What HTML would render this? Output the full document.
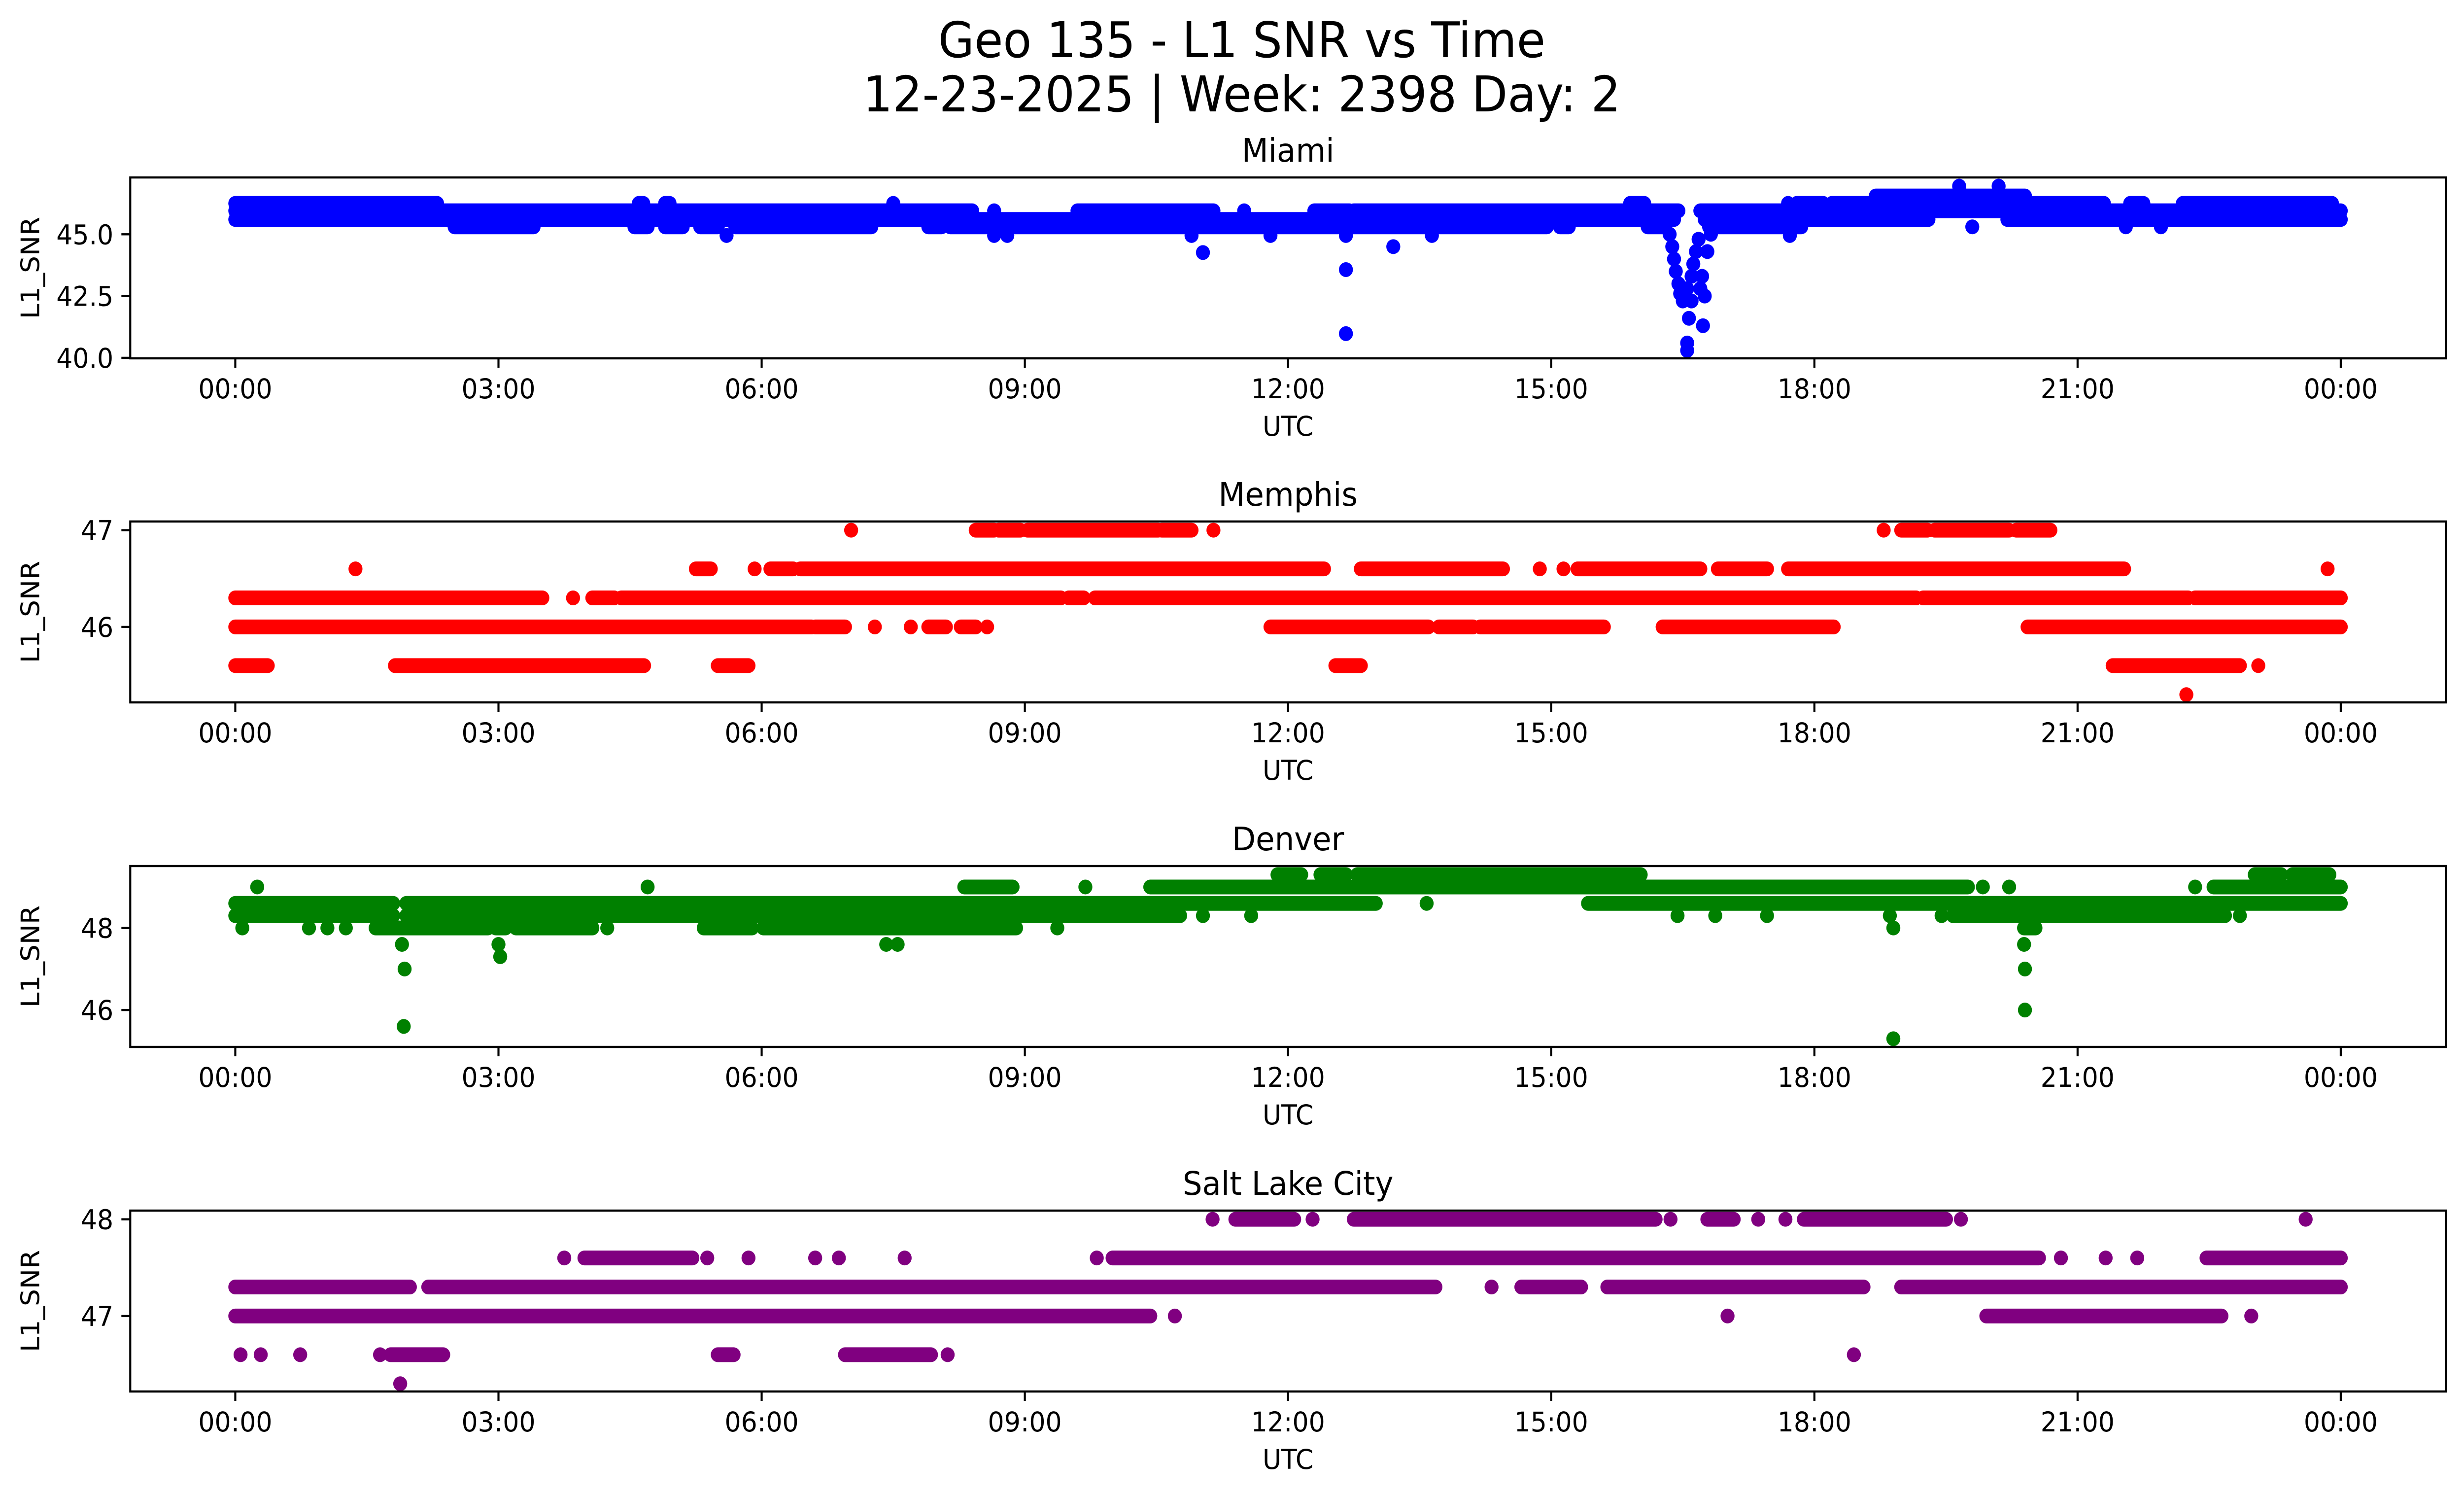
<!DOCTYPE html>
<html><head><meta charset="utf-8"><style>
html,body{margin:0;padding:0;background:#fff;overflow:hidden;width:100%;height:100%;}
svg{display:block;font-family:"DejaVu Sans","Liberation Sans",sans-serif;width:100vw;height:100vh;}
</style></head><body>
<svg id="fig" viewBox="0 0 5278 3033" preserveAspectRatio="none" xmlns="http://www.w3.org/2000/svg">
<rect width="5278" height="3033" fill="#fff"/>
<text x="2660" y="116" font-size="100" text-anchor="middle">Geo 135 - L1 SNR vs Time</text>
<text x="2660" y="226" font-size="100" text-anchor="middle">12-23-2025 | Week: 2398 Day: 2</text>
<g id="plots"></g>
</svg>
<script>
// x tick data
const xTickHours = [0,3,6,9,12,15,18,21,24];
const xTickLabels = ["00:00","03:00","06:00","09:00","12:00","15:00","18:00","21:00","00:00"];

// Miami
const miamiRuns = [
 [0,2.3,46.25],[4.6,4.65,46.25],[4.9,4.95,46.25],[7.5,7.5,46.25],[15.9,16.06,46.25],[17.7,17.7,46.25],[17.8,18.1,46.25],[18.2,21.3,46.25],[21.6,21.75,46.25],[22.2,23.9,46.25],
 [18.7,20.4,46.55],[19.65,19.65,46.95],[20.1,20.1,46.95],
 [0,8.4,45.95],[8.65,8.65,45.95],[9.6,11.15,45.95],[11.5,11.5,45.95],[12.3,12.7,45.95],[12.75,16.45,45.95],[16.7,24.0,45.95],
 [0,16.4,45.6],[16.75,19.3,45.6],[20.2,24.0,45.6],
 [2.5,3.4,45.3],[4.55,4.7,45.3],[4.9,5.1,45.3],[5.3,5.5,45.3],[5.7,7.25,45.3],[7.9,8.05,45.3],[8.15,14.95,45.3],[15.1,15.2,45.3],[16.1,16.3,45.3],[16.8,17.85,45.3],[19.8,19.8,45.3],[21.55,21.55,45.3],[21.95,21.95,45.3]
];
const miamiPoints = [
 [5.6,44.95],[8.65,44.95],[8.8,44.95],[10.9,44.95],[11.03,44.26],[11.8,44.95],[12.66,44.95],[12.66,43.57],[12.66,40.98],[13.2,44.5],[13.64,44.95],[17.72,44.95],
 [16.35,45.0],[16.38,44.5],[16.4,44.0],[16.42,43.5],[16.45,43.0],[16.47,42.6],[16.5,42.3],[16.52,42.4],[16.55,42.8],[16.6,43.3],[16.62,43.8],[16.65,44.3],[16.68,44.8],
 [16.57,41.6],[16.55,40.6],[16.55,40.3],[16.73,41.3],[16.75,42.5],[16.72,43.3],[16.78,44.3],[16.82,45.0],[16.6,42.3],[16.7,42.8]
];
const miamiYTicks = [40,42.5,45];
const miamiYTickLabels = ["40.0","42.5","45.0"];

// Memphis
const memphisRuns = [
 [7.02,7.02,47],[8.44,8.65,47],[8.7,8.95,47],[9.03,10.52,47],[10.56,10.9,47],[11.15,11.15,47],[18.79,18.79,47],[18.99,19.29,47],[19.37,20.22,47],[20.3,20.69,47],
 [1.37,1.37,46.6],[5.25,5.42,46.6],[5.92,5.92,46.6],[6.1,6.36,46.6],[6.44,12.41,46.6],[12.83,14.45,46.6],[14.87,14.87,46.6],[15.14,15.14,46.6],[15.3,16.7,46.6],[16.9,17.46,46.6],[17.7,21.53,46.6],[23.85,23.85,46.6],
 [0,3.5,46.3],[3.85,3.85,46.3],[4.07,4.32,46.3],[4.4,9.41,46.3],[9.5,9.67,46.3],[9.8,19.16,46.3],[19.24,22.26,46.3],[22.34,24.0,46.3],
 [0,6.57,46],[6.61,6.95,46],[7.29,7.29,46],[7.7,7.7,46],[7.9,8.1,46],[8.27,8.44,46],[8.57,8.57,46],[11.8,13.6,46],[13.72,14.11,46],[14.19,15.6,46],[16.27,18.22,46],[20.43,24.0,46],
 [0,0.37,45.6],[1.82,4.66,45.6],[5.5,5.85,45.6],[12.54,12.83,45.6],[21.4,22.85,45.6],[23.06,23.06,45.6],
 [22.24,22.24,45.3]
];
const memphisPoints = [];
const memphisYTicks = [46,47];
const memphisYTickLabels = ["46","47"];

// Denver
const denverRuns = [
 [11.88,12.15,49.3],[12.37,12.66,49.3],[12.79,16.02,49.3],[23.02,23.32,49.3],[23.45,23.87,49.3],
 [0.25,0.25,49],[4.7,4.7,49],[8.31,8.86,49],[9.69,9.69,49],[10.43,19.75,49],[19.92,19.92,49],[20.22,20.22,49],[22.34,22.34,49],[22.55,24.0,49],
 [0,1.8,48.6],[1.95,13.0,48.6],[13.58,13.58,48.6],[15.42,24.0,48.6],
 [0,1.8,48.3],[1.95,10.77,48.3],[11.03,11.03,48.3],[11.58,11.58,48.3],[16.44,16.44,48.3],[16.87,16.87,48.3],[17.46,17.46,48.3],[18.86,18.86,48.3],[19.45,19.45,48.3],[19.58,22.68,48.3],[22.85,22.85,48.3],
 [0.08,0.08,48],[0.84,0.84,48],[1.05,1.05,48],[1.26,1.26,48],[1.6,2.88,48],[2.97,3.08,48],[3.2,4.07,48],[4.24,4.24,48],[5.34,5.89,48],[6.02,8.9,48],[9.37,9.37,48],[18.9,18.9,48],[20.39,20.52,48]
];
const denverPoints = [[1.9,47.6],[3.0,47.6],[7.42,47.6],[7.55,47.6],[20.39,47.6],[3.02,47.3],[1.93,47.0],[20.4,47.0],[20.4,46.0],[1.92,45.6],[18.9,45.3]];
const denverYTicks = [46,48];
const denverYTickLabels = ["46","48"];

// Salt Lake City
const slcRuns = [
 [11.14,11.14,48],[11.4,12.07,48],[12.28,12.28,48],[12.75,16.19,48],[16.36,16.36,48],[16.78,17.08,48],[17.36,17.36,48],[17.67,17.67,48],[17.88,19.5,48],[19.67,19.67,48],[23.6,23.6,48],
 [3.75,3.75,47.6],[3.98,5.21,47.6],[5.38,5.38,47.6],[5.85,5.85,47.6],[6.61,6.61,47.6],[6.88,6.88,47.6],[7.63,7.63,47.6],[9.82,9.82,47.6],[10.0,20.56,47.6],[20.81,20.81,47.6],[21.32,21.32,47.6],[21.68,21.68,47.6],[22.47,24.0,47.6],
 [0,1.99,47.3],[2.2,13.68,47.3],[14.32,14.32,47.3],[14.66,15.34,47.3],[15.64,18.56,47.3],[18.99,24.0,47.3],
 [0,10.43,47],[10.71,10.71,47],[17.01,17.01,47],[19.96,22.64,47],[22.98,22.98,47],
 [0.06,0.06,46.6],[0.29,0.29,46.6],[0.74,0.74,46.6],[1.65,1.65,46.6],[1.77,2.37,46.6],[5.5,5.68,46.6],[6.95,7.93,46.6],[8.12,8.12,46.6],[18.45,18.45,46.6],
 [1.88,1.88,46.3]
];
const slcPoints = [];
const slcYTicks = [47,48];
const slcYTickLabels = ["47","48"];

const NS = "http://www.w3.org/2000/svg";
const L = 279, R = 5239, H = 367, R_DOT = 15;
const X0 = 504, PXH = (5014 - 504) / 24;
function xScale(h){ return X0 + h * PXH; }
function mk(tag, attrs, parent){ const e = document.createElementNS(NS, tag); for (const k in attrs) e.setAttribute(k, attrs[k]); parent.appendChild(e); return e; }

const panels = [
 {key:"miami", title:"Miami", top:360, ymin:39.98, ymax:47.3, color:"#0000ff", runs:miamiRuns, pts:miamiPoints, yt:miamiYTicks, ytl:miamiYTickLabels},
 {key:"memphis", title:"Memphis", top:1058, ymin:45.22, ymax:47.09, color:"#ff0000", runs:memphisRuns, pts:memphisPoints, yt:memphisYTicks, ytl:memphisYTickLabels},
 {key:"denver", title:"Denver", top:1757, ymin:45.1, ymax:49.51, color:"#008000", runs:denverRuns, pts:denverPoints, yt:denverYTicks, ytl:denverYTickLabels},
 {key:"salt-lake-city", title:"Salt Lake City", top:2456, ymin:46.22, ymax:48.09, color:"#800080", runs:slcRuns, pts:slcPoints, yt:slcYTicks, ytl:slcYTickLabels}
];
const root = document.getElementById("plots");
panels.forEach(p => {
  const bot = p.top + H;
  const yScale = v => bot - (v - p.ymin) / (p.ymax - p.ymin) * H;
  const g = mk("g", {}, root);
  
  
  const t = mk("text", {x:(L+R)/2, y:p.top-32, "font-size":66, "text-anchor":"middle"}, g);
  t.textContent = p.title;
  
  
  const clip = mk("clipPath", {id:"c-"+p.key}, g);
  mk("rect", {x:L, y:p.top, width:R-L, height:H}, clip);
  const marks = mk("g", {"clip-path":"url(#c-"+p.key+")", fill:p.color, stroke:p.color}, g);
  
  
  p.runs.forEach(r => {
    const x1 = xScale(r[0]), x2 = xScale(r[1]), y = yScale(r[2]);
    let m;
    if (r[1] > r[0]) m = mk("line", {x1:x1, x2:x2, y1:y, y2:y, "stroke-width":R_DOT*2, "stroke-linecap":"round"}, marks);
    else m = mk("circle", {cx:x1, cy:y, r:R_DOT, stroke:"none"}, marks);
    
    
  });
  p.pts.forEach(q => {
    const c = mk("circle", {cx:xScale(q[0]), cy:yScale(q[1]), r:R_DOT, stroke:"none"}, marks);
    
    
  });
  const frame = mk("rect", {x:L, y:p.top, width:R-L, height:H, fill:"none", stroke:"#000", "stroke-width":4.4}, g);
  
  
  xTickHours.forEach((h,i) => {
    const x = xScale(h);
    const tk = mk("line", {x1:x, x2:x, y1:bot, y2:bot+19, stroke:"#000", "stroke-width":4.4}, g);
    
    
    const tl = mk("text", {x:x, y:bot+81, "font-size":55, "text-anchor":"middle"}, g);
    tl.textContent = xTickLabels[i];
    
    
  });
  p.yt.forEach((v,i) => {
    const y = yScale(v);
    const tk = mk("line", {x1:L-19, x2:L, y1:y, y2:y, stroke:"#000", "stroke-width":4.4}, g);
    
    
    const tl = mk("text", {x:L-36, y:y+20, "font-size":55, "text-anchor":"end"}, g);
    tl.textContent = p.ytl[i];
    
    
  });
  const xl = mk("text", {x:(L+R)/2, y:bot+157, "font-size":55, "text-anchor":"middle"}, g);
  xl.textContent = "UTC";
  
  
  const yc = p.top + H/2;
  const yl = mk("text", {x:0, y:0, "font-size":55, "text-anchor":"middle", transform:"translate(84,"+yc+") rotate(-90)"}, g);
  yl.textContent = "L1_SNR";
  
  
});
</script>
</body></html>
